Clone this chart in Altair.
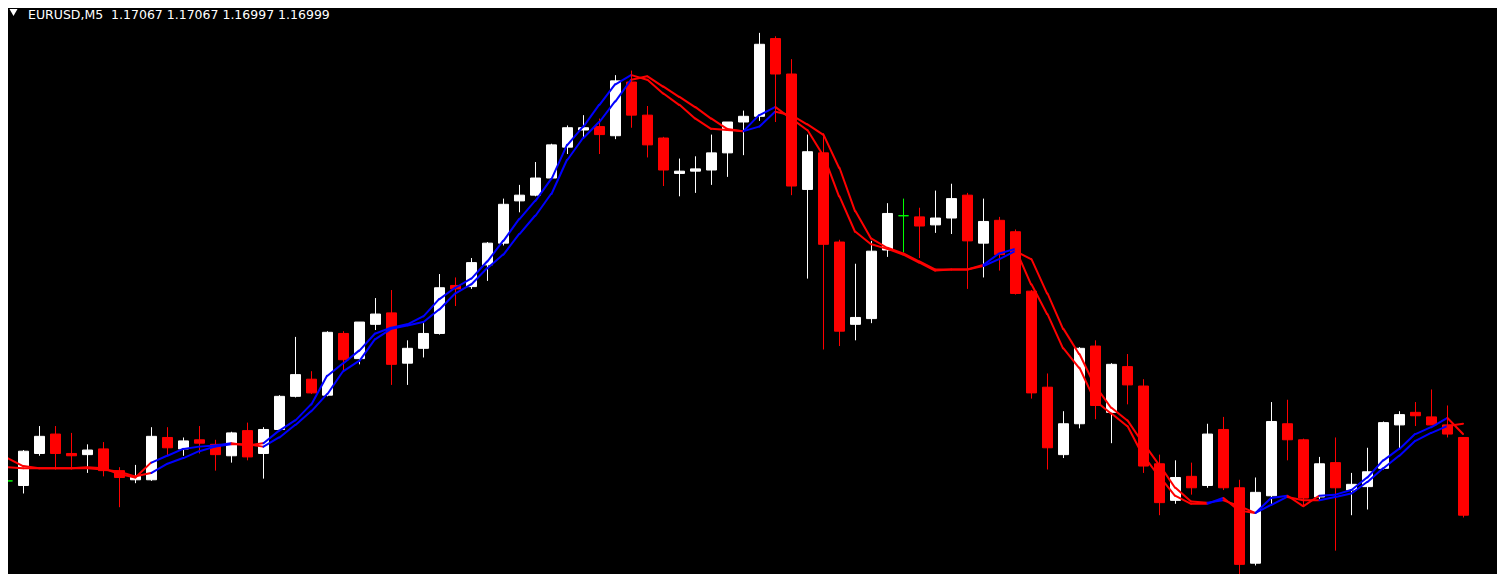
import altair as alt
import pandas as pd

# bar index (-1 is the partially hidden first bar at the left edge)
bars = list(range(-1, 91))

opens = [1.17029,
    1.17025, 1.17053, 1.17070, 1.17053, 1.17052, 1.17057, 1.17038, 1.17030, 1.17030, 1.17067,
    1.17057, 1.17065, 1.17061, 1.17051, 1.17073, 1.17053, 1.17074, 1.17103, 1.17118, 1.17104,
    1.17158, 1.17136, 1.17166, 1.17176, 1.17132, 1.17145, 1.17158, 1.17200, 1.17199, 1.17218,
    1.17237, 1.17274, 1.17279, 1.17294, 1.17321, 1.17336, 1.17339, 1.17331, 1.17378, 1.17349,
    1.17329, 1.17298, 1.17300, 1.17301, 1.17316, 1.17343, 1.17348, 1.17416, 1.17385, 1.17284,
    1.17316, 1.17238, 1.17166, 1.17171, 1.17231, 1.17261, 1.17260, 1.17253, 1.17259, 1.17279,
    1.17237, 1.17257, 1.17247, 1.17195, 1.17111, 1.17052, 1.17079, 1.17147, 1.17089, 1.17129,
    1.17112, 1.17044, 1.17012, 1.17033, 1.17025, 1.17074, 1.17023, 1.16957, 1.17016, 1.17079,
    1.17065, 1.17015, 1.17045, 1.17021, 1.17024, 1.17040, 1.17078, 1.17089, 1.17085, 1.17078,
    1.17067]

highs = [1.17034,
    1.17056, 1.17077, 1.17077, 1.17071, 1.17061, 1.17063, 1.17041, 1.17043, 1.17076, 1.17076,
    1.17067, 1.17077, 1.17065, 1.17072, 1.17080, 1.17076, 1.17104, 1.17155, 1.17125, 1.17160,
    1.17160, 1.17168, 1.17189, 1.17196, 1.17152, 1.17167, 1.17210, 1.17207, 1.17224, 1.17238,
    1.17276, 1.17288, 1.17308, 1.17324, 1.17340, 1.17349, 1.17346, 1.17384, 1.17388, 1.17357,
    1.17330, 1.17311, 1.17313, 1.17332, 1.17343, 1.17353, 1.17421, 1.17418, 1.17398, 1.17332,
    1.17333, 1.17240, 1.17219, 1.17239, 1.17272, 1.17276, 1.17268, 1.17283, 1.17289, 1.17281,
    1.17276, 1.17260, 1.17249, 1.17196, 1.17123, 1.17090, 1.17146, 1.17152, 1.17132, 1.17140,
    1.17118, 1.17052, 1.17047, 1.17045, 1.17079, 1.17085, 1.17030, 1.17032, 1.17098, 1.17100,
    1.17066, 1.17050, 1.17067, 1.17036, 1.17058, 1.17081, 1.17090, 1.17098, 1.17109, 1.17095,
    1.17067]

lows = [1.17005,
    1.17018, 1.17051, 1.17039, 1.17039, 1.17036, 1.17033, 1.17006, 1.17027, 1.17029, 1.17051,
    1.17051, 1.17053, 1.17038, 1.17045, 1.17047, 1.17031, 1.17073, 1.17102, 1.17105, 1.17103,
    1.17125, 1.17131, 1.17161, 1.17113, 1.17113, 1.17137, 1.17157, 1.17182, 1.17197, 1.17204,
    1.17235, 1.17264, 1.17278, 1.17293, 1.17315, 1.17329, 1.17315, 1.17328, 1.17338, 1.17312,
    1.17287, 1.17278, 1.17281, 1.17288, 1.17295, 1.17314, 1.17344, 1.17343, 1.17279, 1.17206,
    1.17144, 1.17147, 1.17152, 1.17167, 1.17225, 1.17229, 1.17224, 1.17246, 1.17245, 1.17197,
    1.17207, 1.17213, 1.17192, 1.17101, 1.17039, 1.17049, 1.17075, 1.17083, 1.17062, 1.17096,
    1.17036, 1.16999, 1.17009, 1.17017, 1.17023, 1.17021, 1.16942, 1.16955, 1.17009, 1.17047,
    1.17006, 1.17013, 1.16968, 1.16999, 1.17004, 1.17039, 1.17057, 1.17077, 1.17078, 1.17067,
    1.16997]

closes = [1.17029,
    1.17055, 1.17068, 1.17053, 1.17051, 1.17056, 1.17038, 1.17032, 1.17033, 1.17068, 1.17058,
    1.17064, 1.17062, 1.17052, 1.17071, 1.17050, 1.17074, 1.17103, 1.17122, 1.17106, 1.17159,
    1.17135, 1.17168, 1.17175, 1.17131, 1.17145, 1.17158, 1.17198, 1.17197, 1.17220, 1.17237,
    1.17271, 1.17279, 1.17294, 1.17323, 1.17338, 1.17338, 1.17332, 1.17379, 1.17349, 1.17323,
    1.17301, 1.17300, 1.17302, 1.17316, 1.17343, 1.17348, 1.17411, 1.17385, 1.17287, 1.17317,
    1.17236, 1.17160, 1.17172, 1.17230, 1.17263, 1.17261, 1.17252, 1.17259, 1.17276, 1.17239,
    1.17256, 1.17227, 1.17193, 1.17106, 1.17058, 1.17079, 1.17145, 1.17095, 1.17131, 1.17113,
    1.17042, 1.17010, 1.17032, 1.17023, 1.17070, 1.17023, 1.16956, 1.17019, 1.17081, 1.17065,
    1.17014, 1.17044, 1.17023, 1.17026, 1.17037, 1.17080, 1.17087, 1.17086, 1.17078, 1.17070,
    1.16999]

ma_fast = [1.17049,
    1.17042, 1.17040, 1.17040, 1.17040, 1.17041, 1.17040, 1.17035, 1.17032, 1.17045, 1.17051,
    1.17057, 1.17059, 1.17060, 1.17062, 1.17060, 1.17062, 1.17073, 1.17082, 1.17096, 1.17121,
    1.17132, 1.17143, 1.17158, 1.17163, 1.17166, 1.17173, 1.17188, 1.17198, 1.17206, 1.17221,
    1.17239, 1.17258, 1.17274, 1.17293, 1.17323, 1.17339, 1.17358, 1.17376, 1.17384, 1.17380,
    1.17368, 1.17358, 1.17346, 1.17337, 1.17336, 1.17335, 1.17349, 1.17356, 1.17346, 1.17336,
    1.17314, 1.17278, 1.17247, 1.17236, 1.17232, 1.17227, 1.17220, 1.17213, 1.17214, 1.17214,
    1.17218, 1.17228, 1.17232, 1.17201, 1.17175, 1.17145, 1.17128, 1.17099, 1.17088, 1.17077,
    1.17051, 1.17033, 1.17016, 1.17009, 1.17009, 1.17014, 1.17003, 1.17001, 1.17014, 1.17016,
    1.17007, 1.17016, 1.17017, 1.17021, 1.17032, 1.17047, 1.17057, 1.17070, 1.17076, 1.17084,
    1.17070]

ma_slow = [1.17041,
    1.17040, 1.17040, 1.17040, 1.17040, 1.17040, 1.17039, 1.17037, 1.17033, 1.17036, 1.17044,
    1.17049, 1.17055, 1.17059, 1.17061, 1.17061, 1.17059, 1.17067, 1.17078, 1.17090, 1.17105,
    1.17125, 1.17134, 1.17153, 1.17162, 1.17165, 1.17168, 1.17179, 1.17193, 1.17201, 1.17215,
    1.17227, 1.17245, 1.17261, 1.17280, 1.17310, 1.17329, 1.17343, 1.17361, 1.17380, 1.17383,
    1.17374, 1.17365, 1.17356, 1.17346, 1.17337, 1.17335, 1.17339, 1.17352, 1.17349, 1.17341,
    1.17332, 1.17303, 1.17265, 1.17241, 1.17233, 1.17228, 1.17221, 1.17214, 1.17214, 1.17214,
    1.17217, 1.17223, 1.17230, 1.17223, 1.17193, 1.17162, 1.17140, 1.17112, 1.17093, 1.17082,
    1.17062, 1.17043, 1.17023, 1.17011, 1.17010, 1.17012, 1.17007, 1.17001, 1.17008, 1.17015,
    1.17012, 1.17012, 1.17015, 1.17018, 1.17028, 1.17040, 1.17051, 1.17064, 1.17071, 1.17077,
    1.17079]

# trend of the MA segment arriving at each bar: U = up (blue), D = down (red)
ma_trend = ("D" + "DDDDDDDDD" + "UUUUU" + "DD" + "UUUUUUUUUUUUUUUUUUUUUUU" + "DDDDDDD"
            + "UU" + "DDDDDDDDDDDDD" + "UU" + "DDDDDDDDDDDD" + "U" + "DD" + "UU" + "DD"
            + "UUUUUUUU" + "D")

title_text = "EURUSD,M5\u00a0 1.17067 1.17067 1.16997 1.16999"

BULL, BEAR, DOJI = "#ffffff", "#ff0000", "#00ff00"
UPC, DNC = "#0000ff", "#ff0000"

candles = pd.DataFrame({"bar": bars, "open": opens, "high": highs,
                        "low": lows, "close": closes})
candles["col"] = [BULL if c > o else (BEAR if c < o else DOJI)
                  for o, c in zip(opens, closes)]

seg_rows = []
for name, series in (("fast", ma_fast), ("slow", ma_slow)):
    for k in range(1, len(bars)):
        seg_rows.append({"line": name, "x": bars[k - 1], "x2": bars[k],
                         "y": series[k - 1], "y2": series[k],
                         "col": UPC if ma_trend[k] == "U" else DNC})
segs = pd.DataFrame(seg_rows)

xs = alt.Scale(domain=[-0.9375, 92.125], nice=False, zero=False, padding=0)
ys = alt.Scale(domain=[1.1694756, 1.17441], nice=False, zero=False, padding=0)

base = alt.Chart(candles)

wicks = base.mark_rule(strokeWidth=1, xOffset=0.5, clip=True).encode(
    x=alt.X("bar:Q", scale=xs, axis=None),
    y=alt.Y("low:Q", scale=ys, axis=None),
    y2="high:Q",
    color=alt.Color("col:N", scale=None),
)

bodies = base.mark_bar(size=10, strokeWidth=1, xOffset=0.5, clip=True).encode(
    x=alt.X("bar:Q", scale=xs, axis=None),
    y=alt.Y("open:Q", scale=ys, axis=None),
    y2="close:Q",
    fill=alt.Fill("col:N", scale=None),
    stroke=alt.Stroke("col:N", scale=None),
)

ma = alt.Chart(segs).mark_rule(strokeWidth=2, strokeCap="round", xOffset=0.5, clip=True).encode(
    x=alt.X("x:Q", scale=xs, axis=None),
    x2="x2:Q",
    y=alt.Y("y:Q", scale=ys, axis=None),
    y2="y2:Q",
    color=alt.Color("col:N", scale=None),
    detail="line:N",
)

label = alt.Chart(pd.DataFrame({"t": [title_text]})).mark_text(
    align="left", baseline="alphabetic", font="DejaVu Sans", fontSize=12.5, color="#ffffff"
).encode(x=alt.value(20), y=alt.value(8.5), text="t:N")

tri = alt.Chart(pd.DataFrame({"t": ["v"]})).mark_point(
    shape="triangle-down", filled=True, size=64, color="#ffffff", opacity=1
).encode(x=alt.value(5.5), y=alt.value(2.5))

chart = alt.layer(wicks, bodies, ma, label, tri).properties(
    width=1489, height=566, padding=0, background="#000000",
    autosize=alt.AutoSizeParams(type="fit", contains="padding"),
).configure_view(stroke=None)

chart.save("out.html", embed_options={"renderer": "svg", "actions": False})
